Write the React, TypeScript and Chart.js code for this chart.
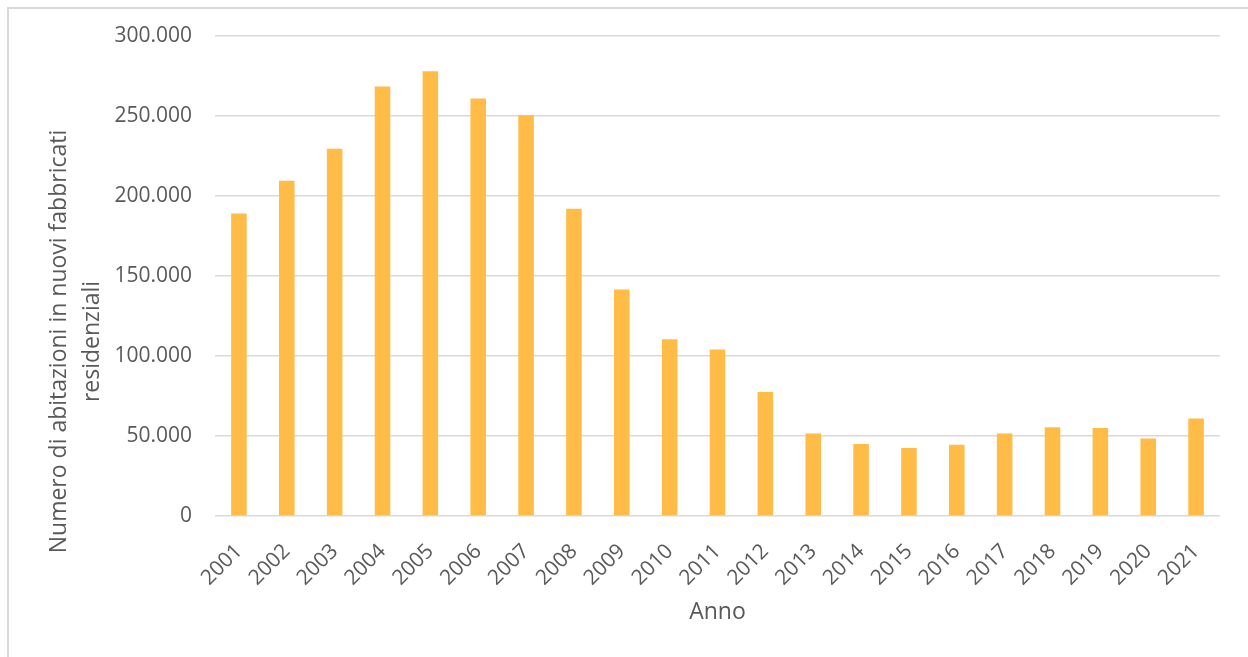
import React, { useEffect, useRef } from "react";
import { Chart, registerables } from "chart.js";

Chart.register(...registerables);

const years: string[] = [
  "2001", "2002", "2003", "2004", "2005", "2006", "2007", "2008", "2009", "2010", "2011",
  "2012", "2013", "2014", "2015", "2016", "2017", "2018", "2019", "2020", "2021",
];
const abitazioni: number[] = [
  189000, 209500, 229500, 268500, 278000, 261000, 250500, 192000, 141500, 110500, 104000,
  77500, 51500, 45000, 42500, 44500, 51500, 55500, 55000, 48500, 61000,
];
const yTitleLines: string[] = ["Numero di abitazioni in nuovi fabbricati", "residenziali"];
const xTitle = "Anno";

const TEXT = "#595959";
const GRID = "#d9d9d9";
const BAR = "#FFBC47";
const FONT = "'Open Sans', sans-serif";

const formatIt = (v: number): string =>
  String(Math.round(v)).replace(/\B(?=(\d{3})+(?!\d))/g, ".");

const yTitlePlugin = {
  id: "yTitleLeft",
  afterDraw(chart: any) {
    const ctx = chart.ctx as CanvasRenderingContext2D;
    const area = chart.chartArea;
    const cy = (area.top + chart.height) / 2 - 5;
    ctx.save();
    ctx.fillStyle = TEXT;
    ctx.font = `23px ${FONT}`;
    ctx.textAlign = "center";
    ctx.textBaseline = "middle";
    const xs = [59, 92];
    yTitleLines.forEach((line, i) => {
      ctx.save();
      ctx.translate(xs[i], cy);
      ctx.rotate(-Math.PI / 2);
      ctx.fillText(line, 0, 0);
      ctx.restore();
    });
    ctx.restore();
  },
};

export default function App() {
  const ref = useRef<HTMLCanvasElement | null>(null);
  useEffect(() => {
    if (!ref.current) return;
    const chart = new Chart(ref.current, {
      type: "bar",
      data: {
        labels: years,
        datasets: [
          {
            data: abitazioni,
            backgroundColor: BAR,
            borderWidth: 0,
            categoryPercentage: 1,
            barPercentage: 0.325,
          },
        ],
      },
      options: {
        responsive: false,
        animation: false,
        layout: { padding: { top: 36, right: 28, left: 0, bottom: 0 } },
        plugins: { legend: { display: false }, tooltip: { enabled: false } },
        scales: {
          x: {
            grid: { display: false },
            border: { display: false },
            ticks: {
              color: TEXT,
              font: { family: FONT, size: 21 },
              minRotation: 45,
              maxRotation: 45,
              padding: 15,
              autoSkip: false,
            },
            title: {
              display: true,
              text: xTitle,
              color: TEXT,
              font: { family: FONT, size: 23 },
              padding: { top: 0, bottom: 31 },
            },
            afterFit(scale: any) {
              scale.height = 141;
            },
          },
          y: {
            min: 0,
            max: 300000,
            grid: { color: GRID, lineWidth: 1.5, drawTicks: false },
            border: { display: false },
            ticks: {
              stepSize: 50000,
              color: TEXT,
              font: { family: FONT, size: 21 },
              padding: 23,
              callback: (v: any) => formatIt(Number(v)),
            },
            afterFit(scale: any) {
              scale.width = 215;
            },
          },
        },
      },
      plugins: [yTitlePlugin],
    });
    return () => chart.destroy();
  }, []);

  return (
    <>
      <div
        style={{
          position: "fixed",
          left: 7,
          top: 7,
          width: 1260,
          height: 670,
          border: "2px solid #d9d9d9",
          boxSizing: "border-box",
          background: "#fff",
        }}
      />
      <div style={{ position: "fixed", left: 0, top: 0, width: 1248, height: 657 }}>
        <canvas ref={ref} width={1248} height={657} />
      </div>
    </>
  );
}
